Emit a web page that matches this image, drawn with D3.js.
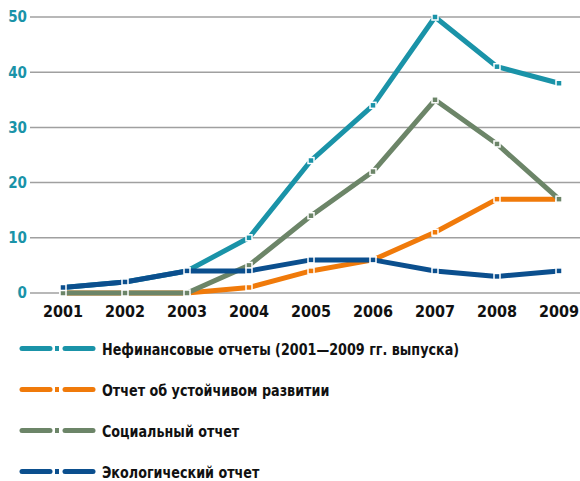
<!DOCTYPE html>
<html>
<head>
<meta charset="utf-8">
<script src="https://cdn.jsdelivr.net/npm/d3@7"></script>
<style>
  body { margin: 0; background: #fff; }
  text { font-family: "DejaVu Sans Condensed", "DejaVu Sans", sans-serif; font-weight: bold; font-stretch: condensed; }
</style>
</head>
<body>
<svg id="chart"></svg>
<script>
const years = [2001, 2002, 2003, 2004, 2005, 2006, 2007, 2008, 2009];
const yTicks = [0, 10, 20, 30, 40, 50];

const nonFinancial = [1, 2, 4, 10, 24, 34, 50, 41, 38];
const sustainability = [0, 0, 0, 1, 4, 6, 11, 17, 17];
const social = [0, 0, 0, 5, 14, 22, 35, 27, 17];
const ecological = [1, 2, 4, 4, 6, 6, 4, 3, 4];

const seriesNames = [
    "Нефинансовые отчеты (2001—2009 гг. выпуска)",
    "Отчет об устойчивом развитии",
    "Социальный отчет",
    "Экологический отчет"
];
const seriesColors = ["#1a93a8", "#f07a0a", "#6c8568", "#0b4f8e"];
const seriesValues = [nonFinancial, sustainability, social, ecological];

const width = 580, height = 481;
const svg = d3.select("#chart").attr("width", width).attr("height", height);

const x = d3.scalePoint().domain(years).range([63, 559]);
const y = d3.scaleLinear().domain([0, 50]).range([293, 17]);

// grid
svg.append("g")
    .selectAll("line")
    .data(yTicks)
    .join("line")
    .attr("x1", 30).attr("x2", width)
    .attr("y1", d => y(d)).attr("y2", d => y(d))
    .attr("stroke", "#a0a0a0")
    .attr("stroke-width", 1.5);

// y labels
svg.append("g")
    .selectAll("text")
    .data(yTicks)
    .join("text")
    .attr("x", 27)
    .attr("y", d => y(d))
    .attr("dy", "0.36em")
    .attr("text-anchor", "end")
    .attr("fill", "#1a93a8")
    .attr("font-size", 15)
    .text(d => d);

// x labels
svg.append("g")
    .selectAll("text")
    .data(years)
    .join("text")
    .attr("x", d => x(d))
    .attr("y", 317)
    .attr("text-anchor", "middle")
    .attr("fill", "#111")
    .attr("font-size", 16)
    .text(d => d);

const line = d3.line()
    .x((d, i) => x(years[i]))
    .y(d => y(d));

const series = seriesValues.map((v, i) => ({ name: seriesNames[i], color: seriesColors[i], values: v }));

const groups = svg.append("g")
    .selectAll("g")
    .data(series)
    .join("g");

groups.append("path")
    .attr("d", d => line(d.values))
    .attr("fill", "none")
    .attr("stroke", d => d.color)
    .attr("stroke-width", 5)
    .attr("stroke-linejoin", "round");

groups.selectAll("rect")
    .data(d => d.values.map((v, i) => ({ v, i, color: d.color })))
    .join("rect")
    .attr("x", d => x(years[d.i]) - 3)
    .attr("y", d => y(d.v) - 3)
    .attr("width", 6)
    .attr("height", 6)
    .attr("fill", d => d.color)
    .attr("stroke", "#fff")
    .attr("stroke-width", 1.5);

// legend
const legend = svg.append("g")
    .selectAll("g")
    .data(series)
    .join("g")
    .attr("transform", (d, i) => `translate(0, ${348.5 + i * 41})`);

legend.append("line")
    .attr("x1", 22).attr("x2", 50)
    .attr("stroke", d => d.color).attr("stroke-width", 5).attr("stroke-linecap", "round");
legend.append("rect")
    .attr("x", 55).attr("y", -2.5).attr("width", 4).attr("height", 5)
    .attr("fill", d => d.color);
legend.append("line")
    .attr("x1", 65).attr("x2", 93)
    .attr("stroke", d => d.color).attr("stroke-width", 5).attr("stroke-linecap", "round");
legend.append("text")
    .attr("transform", "translate(102, 0) scale(0.86, 1)")
    .attr("y", 6)
    .attr("font-size", 16.5)
    .attr("fill", "#111")
    .text(d => d.name);
</script>
</body>
</html>
